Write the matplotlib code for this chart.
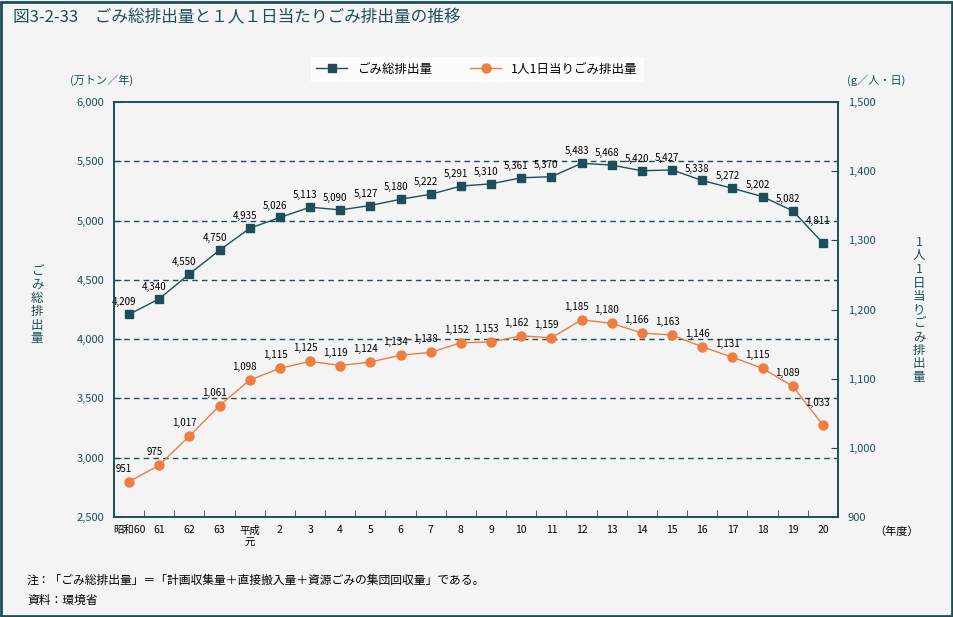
#!/usr/bin/env python3

import numpy as np
import matplotlib
matplotlib.use('Agg')
import matplotlib.pyplot as plt
from matplotlib.ticker import FuncFormatter

plt.rcParams['font.family'] = ['Noto Sans CJK JP', 'DejaVu Sans']

years = ['昭和60', '61', '62', '63', '平成\n元', '2', '3', '4', '5', '6', '7', '8', '9',
         '10', '11', '12', '13', '14', '15', '16', '17', '18', '19', '20']
total = [4209, 4340, 4550, 4750, 4935, 5026, 5113, 5090, 5127, 5180, 5222, 5291,
         5310, 5361, 5370, 5483, 5468, 5420, 5427, 5338, 5272, 5202, 5082, 4811]
perday = [951, 975, 1017, 1061, 1098, 1115, 1125, 1119, 1124, 1134, 1138, 1152,
          1153, 1162, 1159, 1185, 1180, 1166, 1163, 1146, 1131, 1115, 1089, 1033]
left_ticks = [2500, 3000, 3500, 4000, 4500, 5000, 5500, 6000]
right_ticks = [900, 1000, 1100, 1200, 1300, 1400, 1500]

TEAL = '#1d4f5a'
ORANGE = '#ef7d3f'
BG = '#f4f4f4'

W, H = 954, 617
fig = plt.figure(figsize=(W / 100, H / 100), dpi=100, facecolor=BG)

# frame round the whole picture
fig.add_artist(plt.Rectangle((0.001, 0.002), 0.997, 0.995, transform=fig.transFigure,
                             fill=False, edgecolor=TEAL, linewidth=2))

x0, x1, y0, y1 = 114, 838, 102, 517
ax = fig.add_axes([x0 / W, 1 - y1 / H, (x1 - x0) / W, (y1 - y0) / H])
ax.set_facecolor(BG)
ax2 = ax.twinx()

x = np.arange(len(years))

def fmt(v, pos=None):
    return '{:,}'.format(int(v))

# left axis
ax.set_xlim(-0.5, len(years) - 0.5)
ax.set_ylim(2500, 6000)
ax.set_yticks(left_ticks)
ax.yaxis.set_major_formatter(FuncFormatter(fmt))
for v in left_ticks[1:-1]:
    ax.axhline(v, color=TEAL, linestyle=(0, (4, 3)), linewidth=1, zorder=1)

ax.set_xticks(x)
ax.set_xticklabels(years, fontsize=7.5, color='black', linespacing=1.3)
ax.set_xticks(np.arange(len(years) + 1) - 0.5, minor=True)
ax.tick_params(axis='x', which='major', length=0, pad=6)
ax.tick_params(axis='x', which='minor', direction='in', length=5, color=TEAL)
ax.tick_params(axis='y', direction='in', length=5, color=TEAL, labelcolor=TEAL,
               labelsize=8, pad=7)
for s in ax.spines.values():
    s.set_color(TEAL)
    s.set_linewidth(1.2)
for s in ax2.spines.values():
    s.set_color(TEAL)
    s.set_linewidth(1.2)

# right axis
ax2.set_ylim(900, 1500)
ax2.set_yticks(right_ticks)
ax2.yaxis.set_major_formatter(FuncFormatter(fmt))
ax2.tick_params(axis='y', direction='in', length=5, color=TEAL, labelcolor=TEAL,
                labelsize=8, pad=7)

l1, = ax.plot(x, total, color=TEAL, marker='s', markersize=5.5, linewidth=1, zorder=3,
              label='ごみ総排出量')
l2, = ax2.plot(x, perday, color=ORANGE, marker='o', markersize=6.5, linewidth=1, zorder=3,
               label='1人1日当りごみ排出量')

# data labels
for i, v in enumerate(total):
    dy = 22 if i == len(total) - 1 else 12
    ax.annotate(fmt(v), (x[i], v), xytext=(-5, dy), textcoords='offset pixels',
                ha='center', va='center', fontsize=7, color='black', zorder=4)
for i, v in enumerate(perday):
    dy = 22 if i == len(perday) - 1 else 13
    ax2.annotate(fmt(v), (x[i], v), xytext=(-5, dy), textcoords='offset pixels',
                 ha='center', va='center', fontsize=7, color='black', zorder=4)

leg = fig.legend(handles=[l1, l2], loc='center', bbox_to_anchor=(477 / W, 1 - 69 / H),
                 ncol=2, frameon=True, fontsize=9, handlelength=2.5, columnspacing=3,
                 borderpad=0.45, fancybox=False)
leg.get_frame().set_facecolor('white')
leg.get_frame().set_edgecolor('white')

# texts
fig.text(13 / W, 1 - 18 / H, '図3-2-33　ごみ総排出量と１人１日当たりごみ排出量の推移',
         fontsize=12, color=TEAL, va='center', ha='left')
fig.text(102 / W, 1 - 80 / H, '(万トン／年)', fontsize=8, color=TEAL, ha='center', va='center')
fig.text(876 / W, 1 - 80 / H, '(g／人・日)', fontsize=8, color=TEAL, ha='center', va='center')
fig.text(37 / W, 1 - 305 / H, '\n'.join('ごみ総排出量'), fontsize=9, color=TEAL,
         ha='center', va='center', linespacing=1.05)
fig.text(919 / W, 1 - 310 / H, '\n'.join('1人1日当りごみ排出量'), fontsize=9, color=TEAL,
         ha='center', va='center', linespacing=1.05)
fig.text(897 / W, 1 - 532 / H, '（年度）', fontsize=8, color='black', ha='center', va='center')
fig.text(27 / W, 1 - 580 / H,
         '注：「ごみ総排出量」＝「計画収集量＋直接搬入量＋資源ごみの集団回収量」である。',
         fontsize=8.5, color='black', ha='left', va='center')
fig.text(27 / W, 1 - 600 / H, '資料：環境省', fontsize=8.5, color='black',
         ha='left', va='center')

fig.savefig('out.png', dpi=100, facecolor=BG)
